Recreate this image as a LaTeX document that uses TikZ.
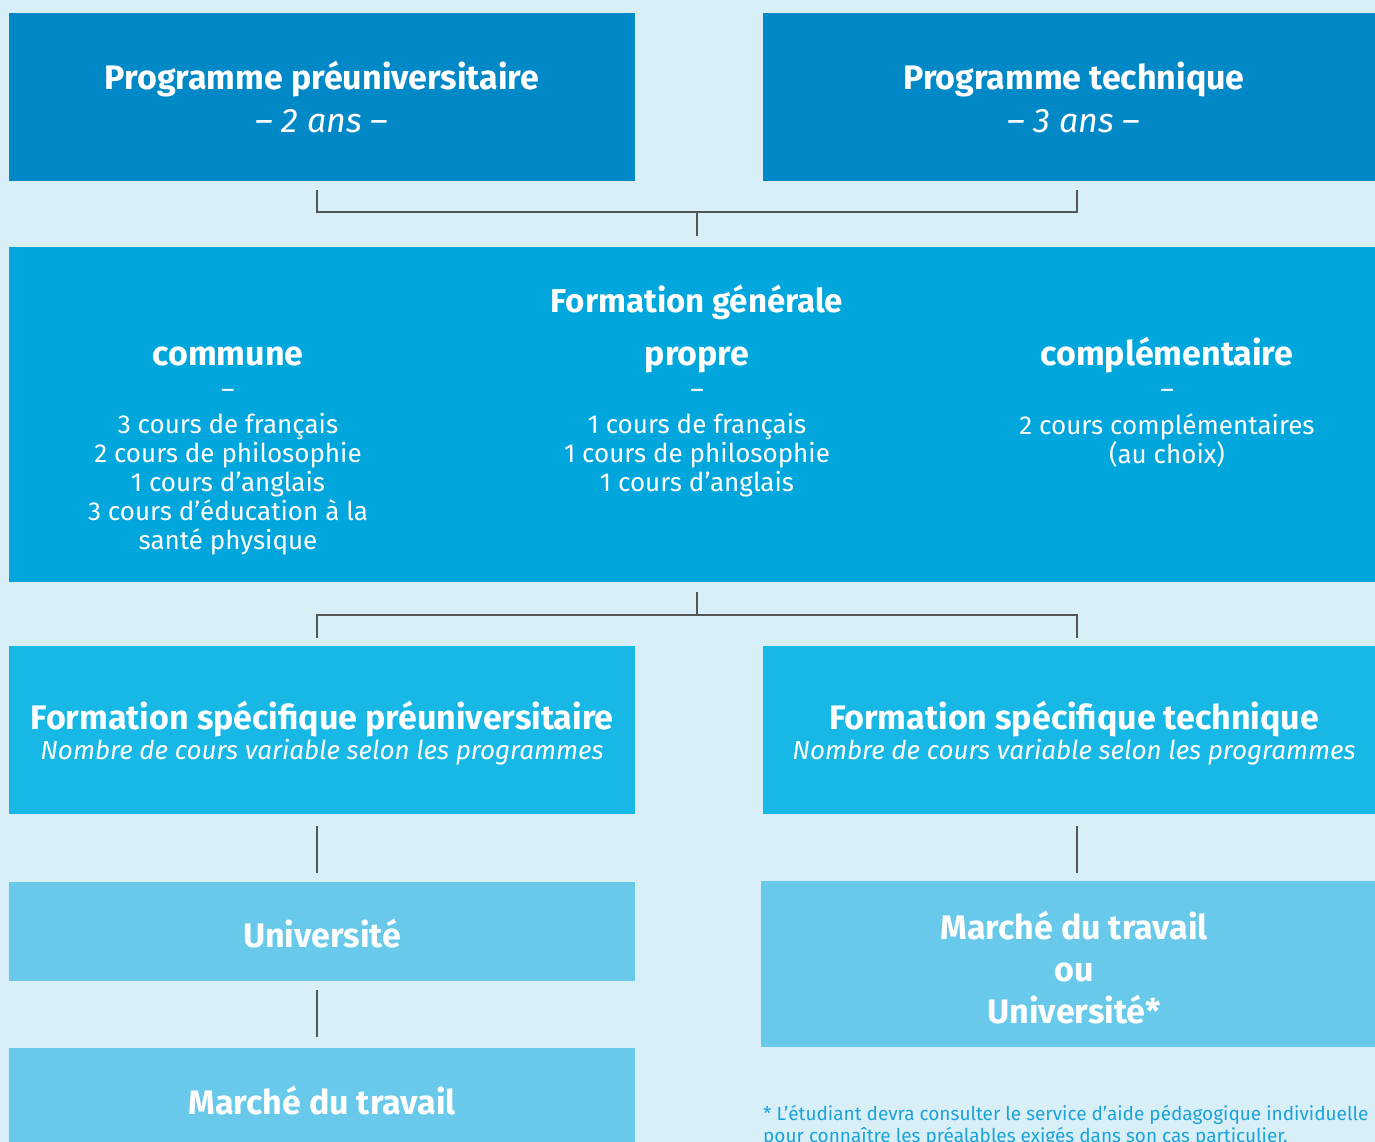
\documentclass[tikz,border=0pt]{standalone}
\usepackage{fontspec}
\setmainfont{Fira Sans}
\definecolor{bgc}{HTML}{D9EFF8}
\definecolor{topc}{HTML}{0088C7}
\definecolor{genc}{HTML}{00A6DC}
\definecolor{specc}{HTML}{18B8E6}
\definecolor{outc}{HTML}{68C9EB}
\definecolor{linec}{HTML}{555555}
\definecolor{notec}{HTML}{1BA3D9}
\begin{document}
\begin{tikzpicture}[x=1pt,y=-1pt,
  box/.style={draw=none,inner sep=0pt,anchor=north west},
  ttl/.style={text=white,font=\fontsize{34}{40}\selectfont\bfseries,align=center,inner sep=0pt},
  ital/.style={text=white,font=\fontsize{34}{40}\selectfont\itshape,align=center,inner sep=0pt},
  body/.style={text=white,font=\fontsize{26}{29}\selectfont,align=center,inner sep=0pt},
  sub/.style={text=white,font=\fontsize{26}{30}\selectfont\itshape,align=center,inner sep=0pt},
  conn/.style={draw=linec,line width=1.2pt}]
\useasboundingbox (0,0) rectangle (1375,1142);
\clip (0,0) rectangle (1375,1142);
\fill[bgc] (0,0) rectangle (1375,1142);

% boxes
\node[box,fill=topc,minimum width=626pt,minimum height=168pt] (tl) at (9,13) {};
\node[box,fill=topc,minimum width=612pt,minimum height=168pt] (tr) at (763,13) {};
\node[box,fill=genc,minimum width=1366pt,minimum height=335pt] (fg) at (9,247) {};
\node[box,fill=specc,minimum width=626pt,minimum height=168pt] (sl) at (9,646) {};
\node[box,fill=specc,minimum width=612pt,minimum height=168pt] (sr) at (763,646) {};
\node[box,fill=outc,minimum width=626pt,minimum height=99pt] (un) at (9,882) {};
\node[box,fill=outc,minimum width=614pt,minimum height=166pt] (mo) at (761,881) {};
\node[box,fill=outc,minimum width=626pt,minimum height=110pt] (mt) at (9,1048) {};

% texts
\node[ttl] (tlt) at (322,79) {Programme préuniversitaire};
\node[ital] (tla) at (322,121) {– 2 ans –};
\node[ttl] (trt) at (1074,79) {Programme technique};
\node[ital] (tra) at (1074,121) {– 3 ans –};

\node[ttl,font=\fontsize{33}{40}\selectfont\bfseries] (fgt) at (697,302) {Formation générale};
\node[ttl,anchor=base] (c1) at (228,365) {commune};
\node[ttl,anchor=base] (c2) at (697,365) {propre};
\node[ttl,anchor=base] (c3) at (1167,365) {complémentaire};
\node[body] (d1) at (228,394) {–};
\node[body] (d2) at (697,394) {–};
\node[body] (d3) at (1167,394) {–};
\node[body,anchor=north] (c1b) at (228,413) {3 cours de français\\2 cours de philosophie\\1 cours d’anglais\\3 cours d’éducation à la\\santé physique};
\node[body,anchor=north] (c2b) at (697,413) {1 cours de français\\1 cours de philosophie\\1 cours d’anglais};
\node[body,anchor=north] (c3b) at (1167,413) {2 cours complémentaires\\(au choix)};

\node[ttl] (slt) at (322,719) {Formation spécifique préuniversitaire};
\node[sub] (sls) at (322,752) {Nombre de cours variable selon les programmes};
\node[ttl] (srt) at (1074,719) {Formation spécifique technique};
\node[sub] (srs) at (1074,752) {Nombre de cours variable selon les programmes};

\node[ttl] (unt) at (322,934) {Université};
\node[ttl,font=\fontsize{34}{42}\selectfont\bfseries] (mot) at (1074,968) {Marché du travail\\ou\\Université*};
\node[ttl] (mtt) at (322,1101) {Marché du travail};

\node[text=notec,font=\fontsize{19}{22}\selectfont,align=left,anchor=north west,inner sep=0pt] (note) at (763,1105)
  {* L’étudiant devra consulter le service d’aide pédagogique individuelle\\pour connaître les préalables exigés dans son cas particulier.};

% connectors
\coordinate (j1l) at (317,190);
\coordinate (j1r) at (1077,190);
\coordinate (j1) at (697,212);
\coordinate (j1d) at (697,236);
\draw[conn] (j1l) |- (j1) -| (j1r);
\draw[conn] (j1) -- (j1d);

\coordinate (j2u) at (697,592);
\coordinate (j2) at (697,615);
\coordinate (j2l) at (317,638);
\coordinate (j2r) at (1077,638);
\draw[conn] (j2u) -- (j2);
\draw[conn] (j2l) |- (j2) -| (j2r);

\coordinate (a1) at (317,826);
\coordinate (a2) at (317,873);
\draw[conn] (a1) -- (a2);
\coordinate (b1) at (1077,826);
\coordinate (b2) at (1077,873);
\draw[conn] (b1) -- (b2);
\coordinate (c1a) at (317,990);
\coordinate (c1z) at (317,1037);
\draw[conn] (c1a) -- (c1z);
\end{tikzpicture}
\end{document}
